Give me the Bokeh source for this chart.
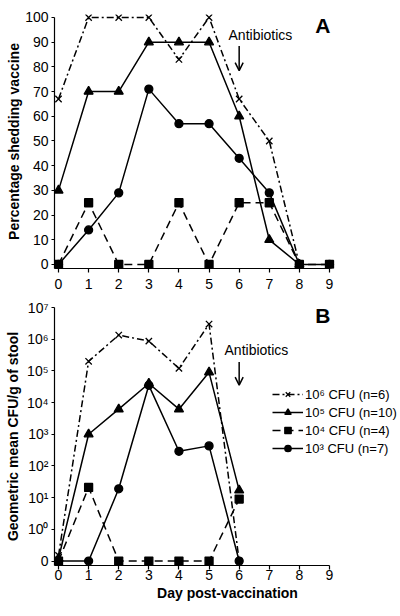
import math
from bokeh.plotting import figure
from bokeh.layouts import column
from bokeh.models import Range1d, FixedTicker, Label, Arrow, OpenHead, Legend, LegendItem
from bokeh.embed import file_html
from bokeh.resources import INLINE

FONT = "Liberation Sans"

# ---------------- data ----------------
days_a = [0, 1, 2, 3, 4, 5, 6, 7, 8]
days_a_long = [0, 1, 2, 3, 4, 5, 6, 7, 8, 9]
pct_1e6 = [67, 100, 100, 100, 83, 100, 67, 50, 0]
pct_1e5 = [30, 70, 70, 90, 90, 90, 60, 10, 0]
pct_1e4 = [0, 25, 0, 0, 25, 0, 25, 25, 0, 0]
pct_1e3 = [0, 14, 29, 71, 57, 57, 43, 29, 0, 0]

days_b = [0, 1, 2, 3, 4, 5, 6]
cfu_1e6 = [0.15, 2.0e5, 1.35e6, 8.7e5, 1.2e5, 3.0e6, 0]
cfu_1e5 = [0.12, 1.0e3, 6.2e3, 4.0e4, 6.2e3, 9.0e4, 17]
cfu_1e4 = [0, 21, 0, 0, 0, 0, 9]
cfu_1e3 = [0, 0, 19, 3.5e4, 2.9e2, 4.3e2, 0]

series_labels = ["10\u2076 CFU (n=6)", "10\u2075 CFU (n=10)", "10\u2074 CFU (n=4)", "10\u00b3 CFU (n=7)"]

x_ticks = list(range(10))
a_y_ticks = list(range(0, 101, 10))
b_y_ticks = [0.1, 1, 10, 100, 1000, 1e4, 1e5, 1e6, 1e7]
b_y_labels = ["0", "10\u2070", "10\u00b9", "10\u00b2", "10\u00b3", "10\u2074", "10\u2075", "10\u2076", "10\u2077"]
ZERO_POS = 0.1  # where a value of 0 is drawn on the log axis

styles = [
    dict(dash="7 3 2 3", marker="x", size=9),
    dict(dash="solid", marker="triangle", size=9),
    dict(dash="8 5", marker="square", size=8),
    dict(dash="solid", marker="circle", size=8),
]

X_START = -0.133
X_END = 11.358


def style_axes(p, tick_font, x_standoff, title_standoff):
    p.outline_line_color = None
    p.grid.visible = False
    p.background_fill_color = "white"
    p.border_fill_color = "white"
    for ax in (p.xaxis[0], p.yaxis[0]):
        ax.axis_line_color = "black"
        ax.axis_line_width = 1.2
        ax.major_tick_line_color = "black"
        ax.major_tick_line_width = 1.2
        ax.major_tick_in = 0
        ax.major_tick_out = 4
        ax.minor_tick_line_color = None
        ax.major_label_text_font = FONT
        ax.major_label_text_font_size = tick_font
        ax.major_label_text_color = "black"
        ax.axis_label_text_font = FONT
        ax.axis_label_text_font_size = "14px"
        ax.axis_label_text_font_style = "bold"
        ax.axis_label_text_color = "black"
    p.xaxis[0].major_label_standoff = x_standoff
    p.yaxis[0].major_label_standoff = 3
    p.yaxis[0].major_tick_out = 3
    p.yaxis[0].axis_label_standoff = title_standoff


# ---------------- panel A ----------------
pA = figure(width=400, height=298, output_backend="svg", toolbar_location=None, title=None,
            x_range=Range1d(X_START, X_END), y_range=Range1d(-1.62, 101.21),
            min_border=0, min_border_left=54, min_border_right=0, min_border_top=14,
            min_border_bottom=30)
style_axes(pA, "14px", 6, 0)
pA.xaxis.ticker = FixedTicker(ticks=x_ticks)
pA.yaxis.ticker = FixedTicker(ticks=a_y_ticks)
pA.xaxis.bounds = (X_START, 9)
pA.yaxis.bounds = (-1.62, 100)
pA.yaxis.axis_label = "Percentage shedding vaccine"

a_sets = [(days_a, pct_1e6), (days_a, pct_1e5), (days_a_long, pct_1e4), (days_a_long, pct_1e3)]
for (xs, ys), st in zip(a_sets, styles):
    pA.line(xs, ys, line_color="black", line_width=1.5, line_dash=st["dash"])
    pA.scatter(xs, ys, marker=st["marker"], size=st["size"], line_color="black",
               fill_color="black", line_width=1.3)

pA.add_layout(Label(x=8.78, y=96.8, text="A", text_align="center", text_baseline="middle",
                    text_font=FONT, text_font_size="21px", text_font_style="bold", text_color="black"))
pA.add_layout(Label(x=5.646, y=93.1, text="Antibiotics", text_align="left", text_baseline="middle",
                    text_font=FONT, text_font_size="14px", text_color="black"))
pA.add_layout(Arrow(end=OpenHead(size=8, line_width=1.5, line_color="black"),
                    x_start=6, y_start=88.5, x_end=6, y_end=78.5, line_width=1.5, line_color="black"))

# ---------------- panel B ----------------
B_LOW = 10 ** -1.141
pB = figure(width=400, height=318, output_backend="svg", toolbar_location=None, title=None,
            y_axis_type="log",
            x_range=Range1d(X_START, X_END), y_range=Range1d(B_LOW, 1e7),
            min_border=0, min_border_left=54, min_border_right=0, min_border_top=9,
            min_border_bottom=51)
style_axes(pB, "14px", 0, 3)
pB.xaxis.ticker = FixedTicker(ticks=x_ticks)
pB.yaxis.ticker = FixedTicker(ticks=b_y_ticks)
pB.yaxis.major_label_overrides = {t: lab for t, lab in zip(b_y_ticks, b_y_labels)}
pB.xaxis.bounds = (X_START, 9)
pB.yaxis.bounds = (B_LOW, 1e7)
pB.yaxis.axis_label = "Geometric mean CFU/g of stool"
pB.xaxis.axis_label = "Day post-vaccination"
pB.xaxis.axis_label_standoff = 2

b_sets = [cfu_1e6, cfu_1e5, cfu_1e4, cfu_1e3]
items = []
for vals, st, lab in zip(b_sets, styles, series_labels):
    ys = [v if v > 0 else ZERO_POS for v in vals]
    r1 = pB.line(days_b, ys, line_color="black", line_width=1.5, line_dash=st["dash"])
    r2 = pB.scatter(days_b, ys, marker=st["marker"], size=st["size"], line_color="black",
                    fill_color="black", line_width=1.3)
    items.append(LegendItem(label=lab, renderers=[r1, r2]))

legend = Legend(items=items, location=(218, 109), glyph_width=31, glyph_height=16,
                label_height=16, spacing=2, label_standoff=2, padding=0, margin=0,
                border_line_color=None, background_fill_alpha=0,
                label_text_font=FONT, label_text_font_size="13px", label_text_color="black")
pB.add_layout(legend, "center")

pB.add_layout(Label(x=8.78, y=10 ** 6.76, text="B", text_align="center", text_baseline="middle",
                    text_font=FONT, text_font_size="21px", text_font_style="bold", text_color="black"))
pB.add_layout(Label(x=5.513, y=10 ** 5.658, text="Antibiotics", text_align="left", text_baseline="middle",
                    text_font=FONT, text_font_size="14px", text_color="black"))
pB.add_layout(Arrow(end=OpenHead(size=8, line_width=1.5, line_color="black"),
                    x_start=6, y_start=10 ** 5.28, x_end=6, y_end=10 ** 4.55,
                    line_width=1.5, line_color="black"))

layout = column(pA, pB)
open("out.html", "w").write(file_html(layout, INLINE))
